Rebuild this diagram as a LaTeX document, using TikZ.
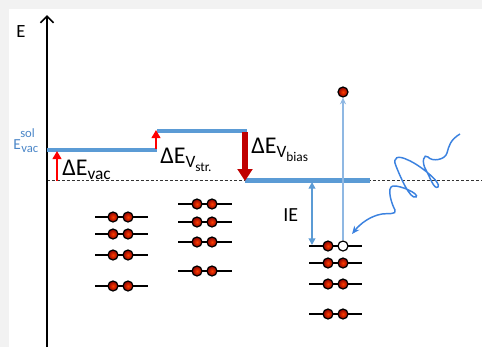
\documentclass[tikz,border=0pt]{standalone}
\usepackage{fontspec}
\setmainfont{Carlito}
\usetikzlibrary{arrows.meta}
\definecolor{lvl}{HTML}{5B9BD5}
\definecolor{thinb}{HTML}{8FB8E3}
\definecolor{wavec}{HTML}{3B82E0}
\definecolor{dred}{HTML}{C00000}
\definecolor{bgc}{HTML}{F2F2F2}
\definecolor{soltxt}{HTML}{4A86C8}
\newcommand{\fs}[1]{\fontsize{#1}{#1}\selectfont}
\begin{document}
\begin{tikzpicture}[x=0.75pt,y=-0.75pt,
  elec/.style={circle,draw=black,line width=0.9pt,inner sep=0pt,minimum size=7.5pt,inner color=red!75!yellow,outer color=red!55!black},
  holec/.style={circle,draw=black,line width=0.9pt,inner sep=0pt,minimum size=7.5pt,fill=white},
  eline/.style={line width=1.1pt,black},
  level/.style={lvl,line width=3pt},
  txt/.style={inner sep=0pt,anchor=base west}]
\useasboundingbox (0,0) rectangle (482,347);
\fill[bgc] (0,0) rectangle (482,347);
\fill[white] (9,9) rectangle (482,347);
% dashed reference line
\coordinate (dL) at (47,180);
\coordinate (dR) at (482,180);
\draw[black!80,line width=0.75pt,dash pattern=on 2.2pt off 1.5pt] (dL) -- (dR);
% axis
\coordinate (axB) at (47,347);
\coordinate (axT) at (47,15);
\draw[line width=1.5pt,-{Straight Barb[length=5pt,width=10pt,line width=1.2pt]}] (axB) -- (axT);
\node[txt] (Elab) at (16,37) {\fs{14}E};
% levels
\coordinate (l1a) at (47,150); \coordinate (l1b) at (157,150);
\coordinate (l2a) at (157,131); \coordinate (l2b) at (247,131);
\coordinate (l3a) at (245,180); \coordinate (l3b) at (370,180);
\draw[level] (l1a) -- (l1b);
\draw[level] (l2a) -- (l2b);
\draw[level,line width=3.75pt] (l3a) -- (l3b);
% red arrows
\coordinate (r1a) at (57,181); \coordinate (r1b) at (57,151);
\coordinate (r2a) at (156,149); \coordinate (r2b) at (156,130);
\draw[red,line width=1.6pt,-{Triangle[length=6pt,width=6.5pt]}] (r1a) -- (r1b);
\draw[red,line width=1.6pt,-{Triangle[length=6pt,width=6.5pt]}] (r2a) -- (r2b);
\coordinate (bA) at (245,132); \coordinate (bB) at (245,181);
\draw[dred,line width=3.8pt,-{Triangle[length=9pt,width=11pt]}] (bA) -- (bB);
% labels
\node[txt,text=soltxt] (solE) at (13,149) {\fs{11.5}E};
\node[txt,text=soltxt] (solS) at (20,137) {\fs{9.5}sol};
\node[txt,text=soltxt] (solV) at (21,152) {\fs{9.5}vac};
\node[txt] (dvac) at (62,175) {\fs{18}ΔE\raisebox{-3.5pt}{\fs{13}vac}};
\node[txt] (dstr) at (160,163) {\fs{18}ΔE\raisebox{-3pt}{\fs{13}V\raisebox{-3pt}{\fs{10}str.}}};
\node[txt] (dbias) at (251,153) {\fs{18}ΔE\raisebox{-3pt}{\fs{13}V\raisebox{-3pt}{\fs{10}bias}}};
\node[txt] (IE) at (283,221) {\fs{15}IE};
% electron levels column 1
\foreach \y [count=\i] in {217,234,255,286} {
  \coordinate (c1l\i) at (95,\y); \coordinate (c1r\i) at (148,\y);
  \draw[eline] (c1l\i) -- (c1r\i);
  \node[elec] (c1a\i) at (113,\y) {};
  \node[elec] (c1b\i) at (128,\y) {};
}
% column 2
\foreach \y [count=\i] in {204,222,242,271} {
  \coordinate (c2l\i) at (178,\y); \coordinate (c2r\i) at (232,\y);
  \draw[eline] (c2l\i) -- (c2r\i);
  \node[elec] (c2a\i) at (197,\y) {};
  \node[elec] (c2b\i) at (212,\y) {};
}
% column 3
\foreach \y [count=\i] in {246,263,284,314} {
  \coordinate (c3l\i) at (309,\y); \coordinate (c3r\i) at (362,\y);
  \draw[eline] (c3l\i) -- (c3r\i);
  \node[elec] (c3a\i) at (328,\y) {};
}
\foreach \y [count=\i from 2] in {263,284,314} {
  \node[elec] (c3b\i) at (343,\y) {};
}
\node[holec] (hole) at (343,246) {};
% IE arrow
\coordinate (ieT) at (312,182); \coordinate (ieB) at (312,245);
\draw[lvl,line width=1.5pt,{Triangle[length=5pt,width=5pt]}-{Triangle[length=5pt,width=5pt]}] (ieT) -- (ieB);
% photoelectron
\node[elec] (free) at (343,92) {};
\draw[thinb,line width=1pt,-{Stealth[length=5pt,width=4.5pt]}] (hole.north) -- (free.south);
% photon
\coordinate (ws) at (460,134);
\coordinate (ph) at (352,234);
\draw[wavec,line width=1.1pt,-{Stealth[length=6pt,width=5pt]}] (ws)
  .. controls (450,140) and (449,146) .. (447,153)
  .. controls (445,160) and (432,162) .. (428,157)
  .. controls (424,153) and (421,162) .. (426,170)
  .. controls (430,177) and (434,190) .. (438,187)
  .. controls (442,183) and (420,165) .. (408,160)
  .. controls (398,155) and (392,157) .. (396,166)
  .. controls (400,176) and (410,200) .. (416,197)
  .. controls (420,194) and (400,185) .. (393,186)
  .. controls (386,187) and (392,205) .. (395,210)
  .. controls (397,215) and (388,213) .. (382,214)
  .. controls (370,216) and (360,224) .. (ph);
\end{tikzpicture}
\end{document}
